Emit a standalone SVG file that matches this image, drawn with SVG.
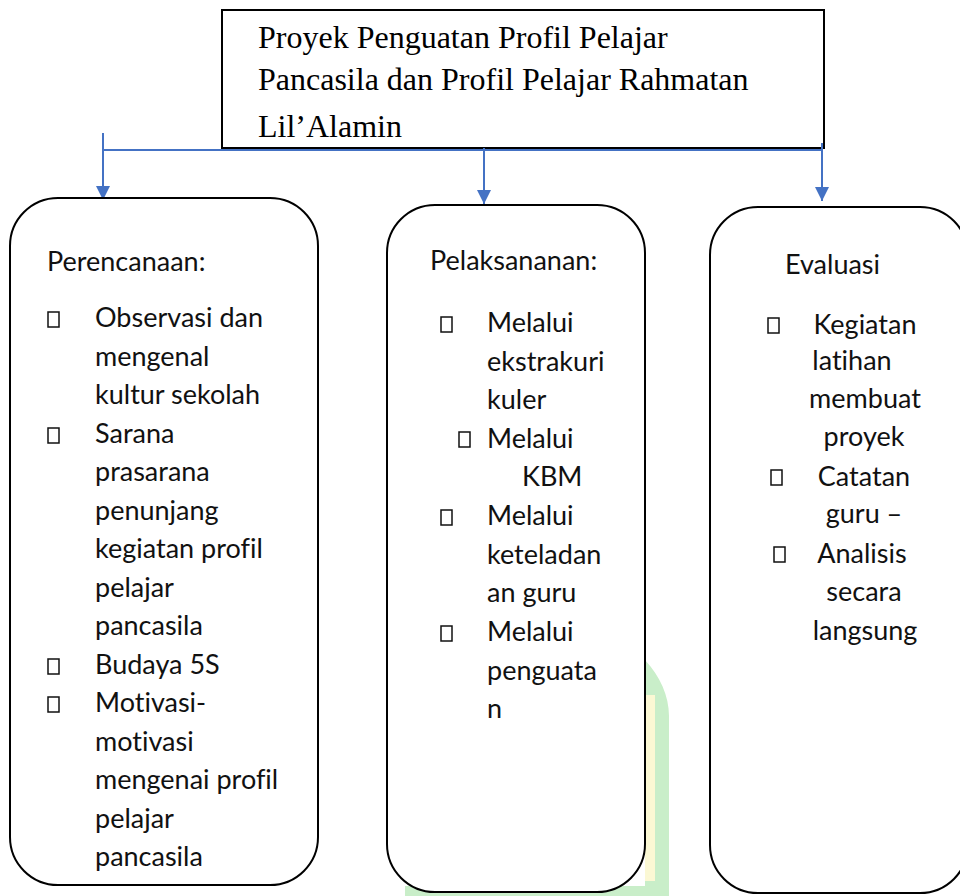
<svg xmlns="http://www.w3.org/2000/svg" width="960" height="896" viewBox="0 0 960 896">
<style>
.box{fill:#fff;stroke:#000;stroke-width:2}
.title{font-family:"Liberation Serif",serif;font-size:32px;fill:#000}
.t{font-family:Lato,"Liberation Sans",sans-serif;font-size:27px;fill:#111;font-variant-ligatures:none}
.c{text-anchor:middle}
.b{fill:#fff;stroke:#111;stroke-width:1.5}
.conn{stroke:#4472C4;stroke-width:2;fill:none}
</style>
<defs>
<marker id="ah" viewBox="0 0 10 10" refX="10" refY="5" markerUnits="userSpaceOnUse" markerWidth="16" markerHeight="14" orient="auto">
<path d="M0,0 L10,5 L0,10 z" fill="#4472C4"/>
</marker>
</defs>
<g id="watermark">
<path d="M645,660 C660,676 669,696 669,716 L669,896 L405,896 L405,886 L645,886 Z" fill="#c9eec9"/>
<rect x="645" y="695" width="10" height="186" fill="#fbf8d4"/>
</g>
<g id="top">
<rect class="box" x="222" y="10" width="602" height="138"/>
<text class="title" x="258" y="48">Proyek Penguatan Profil Pelajar</text>
<text class="title" x="258" y="90">Pancasila dan Profil Pelajar Rahmatan</text>
<text class="title" x="258" y="137">Lil’Alamin</text>
</g>
<g id="connectors">
<path class="conn" d="M103,150 L822,150"/>
<path class="conn" d="M103,133 L103,200" marker-end="url(#ah)"/>
<path class="conn" d="M484,148 L484,204" marker-end="url(#ah)"/>
<path class="conn" d="M822,143 L822,201" marker-end="url(#ah)"/>
</g>
<g id="perencanaan">
<rect class="box" x="10" y="198" width="308" height="687" rx="48"/>
<text class="t" x="47" y="271">Perencanaan:</text>
<rect class="b" x="48" y="312" width="11" height="15"/>
<text class="t" x="95" y="327">Observasi dan</text>
<text class="t" x="95" y="366">mengenal</text>
<text class="t" x="95" y="404">kultur sekolah</text>
<rect class="b" x="48" y="428" width="11" height="15"/>
<text class="t" x="95" y="443">Sarana</text>
<text class="t" x="95" y="481">prasarana</text>
<text class="t" x="95" y="520">penunjang</text>
<text class="t" x="95" y="558">kegiatan profil</text>
<text class="t" x="95" y="597">pelajar</text>
<text class="t" x="95" y="635">pancasila</text>
<rect class="b" x="48" y="659" width="11" height="15"/>
<text class="t" x="95" y="674">Budaya 5S</text>
<rect class="b" x="48" y="697" width="11" height="15"/>
<text class="t" x="95" y="712">Motivasi-</text>
<text class="t" x="95" y="751">motivasi</text>
<text class="t" x="95" y="789">mengenai profil</text>
<text class="t" x="95" y="828">pelajar</text>
<text class="t" x="95" y="866">pancasila</text>
</g>
<g id="pelaksanaan">
<rect class="box" x="387" y="205" width="258" height="687" rx="48"/>
<text class="t" x="430" y="270">Pelaksananan:</text>
<rect class="b" x="441" y="317" width="11" height="15"/>
<text class="t" x="487" y="332">Melalui</text>
<text class="t" x="487" y="371">ekstrakuri</text>
<text class="t" x="487" y="409">kuler</text>
<rect class="b" x="459" y="432" width="11" height="15"/>
<text class="t" x="487" y="448">Melalui</text>
<text class="t" x="522" y="486">KBM</text>
<rect class="b" x="441" y="510" width="11" height="15"/>
<text class="t" x="487" y="525">Melalui</text>
<text class="t" x="487" y="564">keteladan</text>
<text class="t" x="487" y="602">an guru</text>
<rect class="b" x="441" y="626" width="11" height="15"/>
<text class="t" x="487" y="641">Melalui</text>
<text class="t" x="487" y="680">penguata</text>
<text class="t" x="487" y="718">n</text>
</g>
<g id="evaluasi">
<rect class="box" x="710" y="207" width="258" height="686" rx="48"/>
<text class="t" x="785" y="274">Evaluasi</text>
<rect class="b" x="768" y="318" width="11" height="15"/>
<text class="t c" x="865" y="334">Kegiatan</text>
<text class="t c" x="852" y="370">latihan</text>
<text class="t c" x="865" y="408">membuat</text>
<text class="t c" x="864" y="446">proyek</text>
<rect class="b" x="771" y="470" width="11" height="15"/>
<text class="t c" x="864" y="486">Catatan</text>
<text class="t c" x="864" y="523">guru –</text>
<rect class="b" x="774" y="547" width="11" height="15"/>
<text class="t c" x="862" y="563">Analisis</text>
<text class="t c" x="864" y="601">secara</text>
<text class="t c" x="865" y="640">langsung</text>
</g>
</svg>
